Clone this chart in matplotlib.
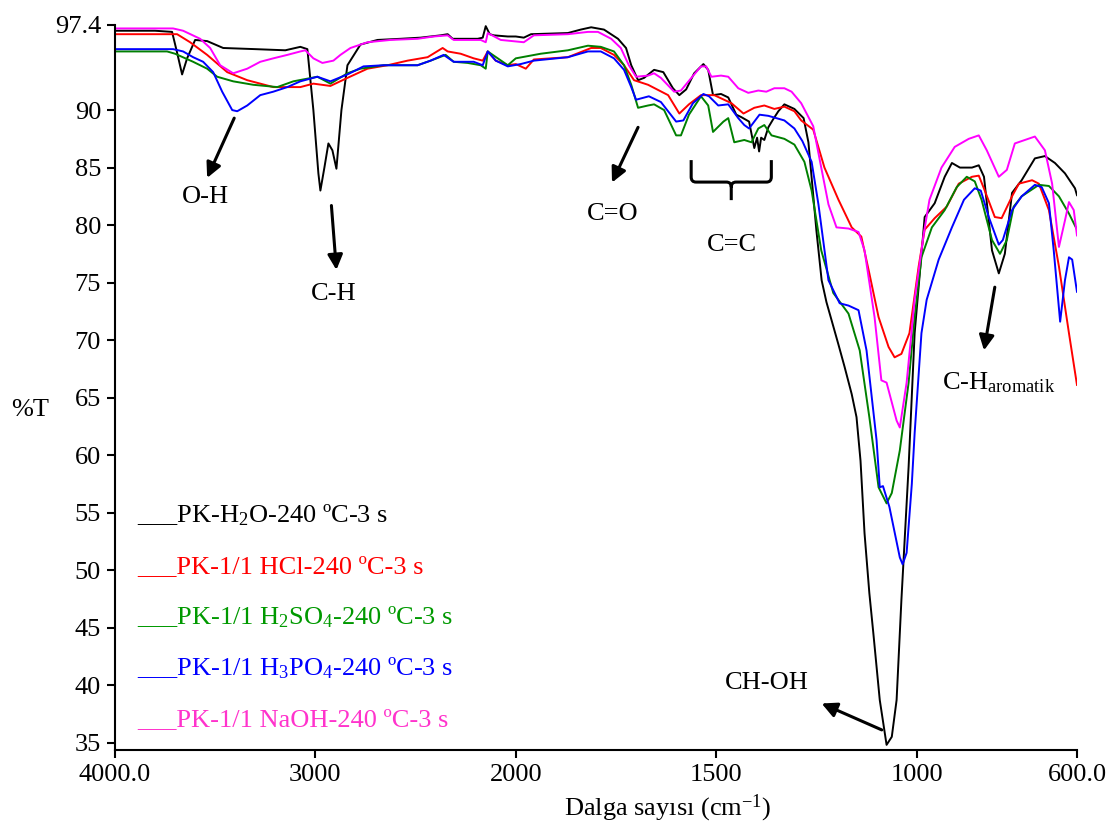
import numpy as np
import matplotlib
matplotlib.use('Agg')
import matplotlib.pyplot as plt
from matplotlib.path import Path
from matplotlib.patches import PathPatch

plt.rcParams['font.family'] = ['Liberation Serif', 'DejaVu Serif']
plt.rcParams['mathtext.fontset'] = 'custom'
plt.rcParams['mathtext.rm'] = 'Liberation Serif'
plt.rcParams['mathtext.it'] = 'Liberation Serif:italic'

# (wavenumber cm-1, %T)
h2o = np.array([
    (4000, 96.9), (3800, 96.9), (3715, 96.8), (3690, 95.0), (3665, 93.1), (3640, 94.5),
    (3600, 96.1), (3540, 96.0), (3460, 95.4), (3300, 95.3), (3150, 95.2), (3075, 95.5),
    (3040, 95.3), (3010, 90.0), (2985, 84.5), (2975, 83.0), (2955, 85.0), (2935, 87.1),
    (2915, 86.5), (2895, 84.9), (2870, 90.0), (2840, 93.9), (2775, 95.7), (2690, 96.1),
    (2575, 96.2), (2475, 96.3), (2375, 96.5), (2340, 96.6), (2315, 96.2), (2190, 96.2),
    (2165, 96.3), (2150, 97.3), (2130, 96.6), (2110, 96.5), (2040, 96.4), (2000, 96.4),
    (1980, 96.3), (1962, 96.6), (1870, 96.7), (1838, 97.0), (1812, 97.2), (1780, 97.0),
    (1745, 96.2), (1725, 95.4), (1712, 93.9), (1695, 92.6), (1680, 92.8), (1655, 93.5),
    (1632, 93.3), (1608, 91.9), (1592, 91.3), (1575, 91.8), (1555, 93.2), (1532, 94.0),
    (1520, 93.5), (1508, 91.3), (1488, 91.4), (1470, 91.1), (1450, 89.6), (1438, 89.4),
    (1418, 89.0), (1405, 86.7), (1398, 87.6), (1393, 86.4), (1388, 87.6), (1380, 87.4),
    (1370, 88.5), (1358, 89.2), (1345, 89.9), (1330, 90.5), (1305, 90.1), (1282, 89.3),
    (1270, 87.2), (1258, 82.6), (1250, 79.5), (1237, 75.2), (1225, 73.3), (1212, 71.7),
    (1195, 69.6), (1180, 67.7), (1162, 65.3), (1150, 63.3), (1140, 59.5), (1130, 53.2),
    (1118, 48.0), (1108, 44.5), (1092, 38.7), (1075, 34.8), (1062, 35.5), (1050, 38.7),
    (1038, 47.4), (1020, 59.0), (1005, 70.6), (980, 80.7), (955, 81.9), (930, 84.2),
    (912, 85.4), (892, 85.0), (862, 85.0), (845, 85.2), (832, 84.2), (812, 77.8),
    (795, 75.8), (780, 77.5), (762, 82.8), (738, 83.9), (705, 85.8), (680, 86.0),
    (655, 85.4), (630, 84.5), (605, 83.2), (600, 82.6)])

hcl = np.array([
    (4000, 96.6), (3690, 96.6), (3625, 95.9), (3540, 94.8), (3440, 93.3), (3340, 92.6),
    (3210, 92.0), (3075, 92.0), (3010, 92.3), (2925, 92.1), (2840, 92.8), (2740, 93.6),
    (2640, 93.9), (2540, 94.3), (2440, 94.6), (2365, 95.4), (2340, 95.1), (2275, 94.9),
    (2210, 94.5), (2165, 94.3), (2140, 95.1), (2100, 94.3), (2040, 93.9), (2000, 94.0),
    (1975, 93.6), (1955, 94.4), (1870, 94.6), (1812, 95.4), (1788, 95.4), (1755, 94.8),
    (1730, 93.9), (1705, 92.6), (1670, 92.2), (1620, 91.3), (1592, 89.7), (1568, 90.5),
    (1538, 91.3), (1505, 91.3), (1462, 90.6), (1432, 89.7), (1405, 90.2), (1380, 90.4),
    (1355, 90.1), (1330, 90.3), (1305, 89.9), (1288, 89.1), (1258, 88.3), (1230, 85.0),
    (1195, 82.2), (1162, 79.8), (1138, 79.0), (1118, 75.8), (1095, 72.0), (1070, 69.4),
    (1055, 68.5), (1038, 68.8), (1018, 70.6), (995, 76.4), (980, 79.6), (955, 80.6),
    (925, 81.6), (895, 83.6), (862, 84.2), (845, 84.3), (830, 83.0), (805, 80.7),
    (788, 80.6), (762, 82.5), (745, 83.6), (712, 83.9), (695, 83.6), (670, 81.3),
    (645, 76.4), (620, 70.6), (600, 66.1)])

h2so4 = np.array([
    (4000, 95.1), (3740, 95.1), (3700, 94.9), (3610, 94.2), (3540, 93.6), (3490, 92.9),
    (3410, 92.5), (3310, 92.2), (3190, 92.0), (3110, 92.5), (2990, 92.9), (2925, 92.3),
    (2840, 93.2), (2775, 93.6), (2660, 93.9), (2490, 93.9), (2425, 94.3), (2350, 94.8),
    (2310, 94.2), (2240, 94.1), (2175, 93.9), (2150, 93.6), (2140, 95.1), (2090, 94.5),
    (2040, 93.9), (2000, 94.5), (1938, 94.9), (1870, 95.2), (1820, 95.6), (1788, 95.5),
    (1755, 95.1), (1730, 93.9), (1712, 92.2), (1695, 90.2), (1670, 90.4), (1655, 90.5),
    (1630, 90.0), (1600, 87.8), (1588, 87.8), (1568, 89.6), (1538, 91.2), (1520, 90.4),
    (1508, 88.1), (1482, 89.0), (1470, 89.3), (1455, 87.2), (1430, 87.4), (1412, 87.2),
    (1395, 88.4), (1380, 88.7), (1362, 87.8), (1330, 87.5), (1305, 87.0), (1280, 85.5),
    (1262, 83.0), (1238, 77.8), (1208, 74.1), (1170, 72.3), (1142, 69.1), (1118, 63.3),
    (1095, 57.2), (1075, 55.8), (1062, 56.7), (1042, 60.4), (1020, 66.3), (1005, 72.0),
    (988, 77.2), (962, 79.8), (930, 81.3), (900, 83.3), (875, 84.2), (855, 83.8),
    (838, 82.2), (812, 78.7), (792, 77.5), (775, 78.7), (758, 81.6), (738, 82.5),
    (695, 83.5), (670, 83.4), (645, 82.5), (620, 81.0), (600, 79.6)])

h3po4 = np.array([
    (4000, 95.3), (3710, 95.3), (3660, 95.1), (3610, 94.6), (3560, 94.2), (3510, 93.3),
    (3465, 91.6), (3415, 90.0), (3390, 89.9), (3340, 90.4), (3275, 91.3), (3210, 91.6),
    (3140, 92.0), (3075, 92.5), (2990, 92.9), (2925, 92.5), (2840, 93.1), (2760, 93.8),
    (2660, 93.9), (2490, 93.9), (2425, 94.3), (2360, 94.8), (2310, 94.2), (2210, 94.2),
    (2165, 93.9), (2140, 95.1), (2100, 94.3), (2040, 93.8), (1988, 94.0), (1955, 94.3),
    (1870, 94.6), (1820, 95.1), (1788, 95.1), (1755, 94.5), (1730, 93.5), (1712, 92.0),
    (1700, 90.9), (1668, 91.2), (1638, 90.7), (1600, 89.0), (1582, 89.1), (1558, 90.6),
    (1532, 91.4), (1518, 91.2), (1495, 90.4), (1470, 90.5), (1445, 89.3), (1430, 88.7),
    (1418, 88.4), (1392, 89.6), (1370, 89.5), (1330, 89.1), (1305, 88.4), (1285, 87.3),
    (1262, 85.5), (1245, 81.8), (1220, 75.2), (1192, 73.2), (1170, 73.0), (1145, 72.6),
    (1125, 69.1), (1100, 61.3), (1092, 57.2), (1084, 57.3), (1068, 55.5), (1042, 51.1),
    (1035, 50.5), (1025, 51.5), (1012, 57.5), (1005, 61.9), (988, 70.6), (975, 73.5),
    (945, 77.0), (912, 79.8), (882, 82.2), (855, 83.2), (840, 83.0), (820, 80.7),
    (795, 78.3), (785, 78.7), (762, 81.3), (738, 82.5), (705, 83.5), (688, 83.3),
    (670, 81.9), (658, 77.8), (642, 71.6), (630, 75.2), (620, 77.2), (612, 77.0),
    (600, 74.2)])

naoh = np.array([
    (4000, 97.1), (3710, 97.1), (3660, 96.9), (3575, 96.2), (3525, 95.4), (3475, 93.9),
    (3410, 93.2), (3340, 93.6), (3275, 94.2), (3210, 94.5), (3140, 94.8), (3075, 95.1),
    (3050, 95.2), (3010, 94.5), (2965, 94.1), (2910, 94.3), (2875, 94.8), (2825, 95.4),
    (2740, 95.9), (2625, 96.1), (2490, 96.2), (2410, 96.4), (2340, 96.5), (2310, 96.1),
    (2175, 96.1), (2150, 95.9), (2140, 96.7), (2075, 96.1), (1980, 95.9), (1955, 96.5),
    (1870, 96.6), (1820, 96.8), (1795, 96.8), (1762, 96.2), (1738, 95.4), (1718, 93.9),
    (1700, 92.9), (1670, 93.0), (1655, 93.2), (1638, 92.8), (1605, 91.6), (1588, 91.7),
    (1562, 92.8), (1538, 93.8), (1525, 93.8), (1512, 92.9), (1488, 93.0), (1470, 92.9),
    (1445, 91.9), (1420, 91.5), (1395, 91.7), (1375, 91.6), (1355, 91.9), (1330, 91.9),
    (1312, 91.6), (1288, 90.6), (1258, 88.6), (1238, 85.0), (1220, 81.8), (1200, 79.8),
    (1170, 79.7), (1145, 79.4), (1130, 77.8), (1105, 72.0), (1088, 66.5), (1075, 66.3),
    (1050, 63.0), (1042, 62.4), (1025, 66.3), (1005, 73.5), (982, 79.3), (968, 82.2),
    (938, 85.0), (905, 86.8), (870, 87.5), (845, 87.8), (825, 86.5), (795, 84.2),
    (775, 84.8), (755, 87.1), (730, 87.4), (705, 87.7), (680, 86.5), (662, 83.6),
    (645, 78.1), (630, 80.4), (620, 82.0), (608, 81.3), (600, 79.1)])

series = [h2o, hcl, h2so4, h3po4, naoh]
colors = ['black', '#FF0000', '#008000', '#0000FF', '#FF00FF']
label_colors = ['black', '#FF0000', '#009900', '#0000FF', '#FF33CC']
labels = ['PK-H$_\\mathrm{2}$O-240 ºC-3 s',
          'PK-1/1 HCl-240 ºC-3 s',
          'PK-1/1 H$_\\mathrm{2}$SO$_\\mathrm{4}$-240 ºC-3 s',
          'PK-1/1 H$_\\mathrm{3}$PO$_\\mathrm{4}$-240 ºC-3 s',
          'PK-1/1 NaOH-240 ºC-3 s']

xticks = [4000, 3000, 2000, 1500, 1000, 600]
xticklabels = ['4000.0', '3000', '2000', '1500', '1000', '600.0']
yticks = [35, 40, 45, 50, 55, 60, 65, 70, 75, 80, 85, 90, 97.4]
yticklabels = ['35', '40', '45', '50', '55', '60', '65', '70', '75', '80', '85', '90', '97.4']


# above 2000 cm-1 the axis is compressed by half (as on the instrument plot)
def fwd(x):
    x = np.asarray(x, dtype=float)
    return np.where(x <= 2000, x, 2000 + (x - 2000) / 2)


def inv(y):
    y = np.asarray(y, dtype=float)
    return np.where(y <= 2000, y, 2000 + (y - 2000) * 2)


fig = plt.figure(figsize=(11.15, 8.33), dpi=100)
ax = fig.add_axes([0.1031, 0.0996, 0.8628, 0.8704])
ax.set_xscale('function', functions=(fwd, inv))

for data, c in zip(series, colors):
    ax.plot(data[:, 0], data[:, 1], color=c, lw=1.4)

ax.set_xlim(4000, 600)
ax.set_ylim(34.35, 97.4)
ax.set_xticks(xticks)
ax.set_xticklabels(xticklabels)
ax.set_yticks(yticks)
ax.set_yticklabels(yticklabels)
ax.minorticks_off()
ax.tick_params(direction='out', length=6, width=1.5, labelsize=19, pad=4)
for s in ['top', 'right']:
    ax.spines[s].set_visible(False)
for s in ['left', 'bottom']:
    ax.spines[s].set_linewidth(1.5)

# legend written as text lines
leg_y = [54.8, 50.3, 45.9, 41.5, 37.0]
for lab, c, yy in zip(labels, label_colors, leg_y):
    ax.text(3890, yy, '___' + lab, color=c, fontsize=19, va='center', ha='left')

# band labels and arrows
ak = dict(arrowstyle='-|>,head_length=0.9,head_width=0.45', color='black', lw=2.2,
          shrinkA=0, shrinkB=0)
ax.annotate('', xy=(3540, 84.1), xytext=(3405, 89.3), arrowprops=ak)
ax.text(3550, 82.4, 'O-H', fontsize=19, ha='center', va='center')
ax.annotate('', xy=(2895, 76.1), xytext=(2920, 81.7), arrowprops=ak)
ax.text(2910, 74.0, 'C-H', fontsize=19, ha='center', va='center')
ax.annotate('', xy=(1760, 83.7), xytext=(1695, 88.5), arrowprops=ak)
ax.text(1758, 81.0, 'C=O', fontsize=19, ha='center', va='center')
ax.text(1462, 78.3, 'C=C', fontsize=19, ha='center', va='center')
ax.annotate('', xy=(832, 69.1), xytext=(805, 74.6), arrowprops=ak)
ax.text(937, 66.3, 'C-H$_\\mathrm{aromatik}$', fontsize=19, ha='left', va='center')
ax.annotate('', xy=(1237, 38.4), xytext=(1087, 36.1), arrowprops=ak)
ax.text(1375, 40.2, 'CH-OH', fontsize=19, ha='center', va='center')

# curly brace over the C=C region
L, R, M = 1562.5, 1362.5, 1462.5
top, mid, stem = 85.65, 83.74, 82.17
verts = [(L, top), (L, mid + 0.45), (L, mid), (L - 12, mid), (M + 12, mid), (M, mid),
         (M, mid - 0.45), (M, stem),
         (M, mid - 0.45), (M, mid), (M - 12, mid), (R + 12, mid), (R, mid), (R, mid + 0.45), (R, top)]
codes = [Path.MOVETO, Path.LINETO, Path.CURVE3, Path.CURVE3, Path.LINETO, Path.CURVE3,
         Path.CURVE3, Path.LINETO,
         Path.MOVETO, Path.CURVE3, Path.CURVE3, Path.LINETO, Path.CURVE3, Path.CURVE3, Path.LINETO]
ax.add_patch(PathPatch(Path(verts, codes), fill=False, lw=2.2, color='black'))

fig.text(30 / 1115, 1 - 410 / 833, '%T', fontsize=19, ha='center', va='center')
fig.text(668 / 1115, 1 - 808 / 833, 'Dalga sayısı (cm$^{-1}$)', fontsize=19, ha='center', va='center')

fig.savefig('out.png', dpi=100)
